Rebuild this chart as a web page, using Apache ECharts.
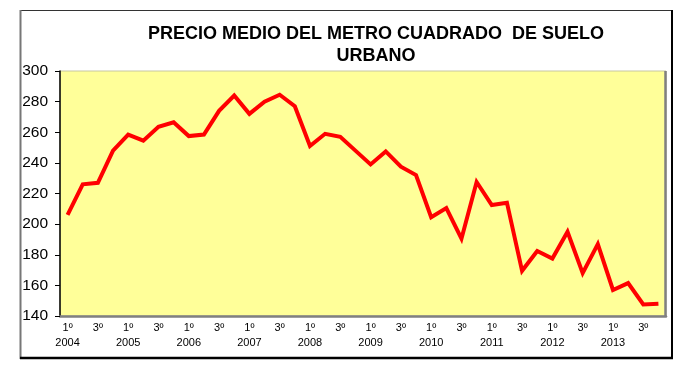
<!DOCTYPE html>
<html>
<head>
<meta charset="utf-8">
<script src="https://cdn.jsdelivr.net/npm/echarts@6/dist/echarts.min.js"></script>
<style>html,body{margin:0;padding:0;background:#fff}#c{width:692px;height:382px}</style>
</head>
<body>
<div id="c"></div>
<script>
const titleText = "PRECIO MEDIO DEL METRO CUADRADO  DE SUELO\nURBANO";
const years = ["2004","2005","2006","2007","2008","2009","2010","2011","2012","2013"];
const quarters = ["1º","2º","3º","4º"];
const values = [
  206, 226, 227, 248, 258.5, 254.5, 263.5, 266.5, 257.5, 258.5,
  274, 284, 272, 280, 284.5, 277, 251, 259, 257, 248,
  239, 247.5, 237.5, 232, 204.5, 210.5, 190.5, 227.5, 212.5, 214,
  169.5, 182.5, 177.5, 195, 168, 187, 157, 161.5, 147.5, 148
];
const yMin = 140, yMax = 300, yStep = 20;

const categories = [];
years.forEach(y => quarters.forEach(q => categories.push(y + "|" + q)));

const chart = echarts.init(document.getElementById('c'), null, {renderer: 'canvas'});
const font = "Liberation Sans, Arial, sans-serif";
chart.setOption({
  animation: false,
  backgroundColor: '#ffffff',
  title: {
    text: titleText,
    left: 371, top: 18, textAlign: 'center',
    textStyle: {fontFamily: font, fontSize: 18, fontWeight: 'bold', color: '#000', lineHeight: 22}
  },
  grid: {
    left: 60, top: 71, right: 26, bottom: 66,
    show: true, backgroundColor: '#FFFF99', borderColor: '#c8c8a0', borderWidth: 1
  },
  xAxis: {
    type: 'category', data: categories, boundaryGap: true,
    axisLine: {show: true, lineStyle: {color: '#808080', width: 2.5}},
    axisTick: {show: false},
    splitLine: {show: false},
    axisLabel: {
      interval: 1, margin: 4,
      fontFamily: font, fontSize: 11, color: '#000', lineHeight: 15,
      formatter: function (v) {
        const p = v.split("|");
        return p[1] === "1º" ? p[1] + "\n" + p[0] : p[1];
      },
      verticalAlign: 'top'
    }
  },
  yAxis: {
    type: 'value', min: yMin, max: yMax, interval: yStep,
    axisLine: {show: true, lineStyle: {color: '#000', width: 1.5}},
    axisTick: {show: true, inside: false, length: 5, lineStyle: {color: '#000', width: 1}},
    splitLine: {show: false},
    axisLabel: {margin: 12, fontFamily: font, fontSize: 15.5, color: '#000'}
  },
  series: [{
    type: 'line', data: values, symbol: 'none',
    lineStyle: {color: '#FF0000', width: 4, join: 'miter'},
    itemStyle: {color: '#FF0000'}
  }],
  graphic: [
    {type: 'line', shape: {x1: 20, y1: 10.5, x2: 672, y2: 10.5}, style: {stroke: '#333', lineWidth: 1}},
    {type: 'line', shape: {x1: 20.5, y1: 10, x2: 20.5, y2: 359}, style: {stroke: '#777', lineWidth: 2}},
    {type: 'line', shape: {x1: 672, y1: 10, x2: 672, y2: 359}, style: {stroke: '#000', lineWidth: 2}},
    {type: 'line', shape: {x1: 20, y1: 358, x2: 673, y2: 358}, style: {stroke: '#000', lineWidth: 2.5}},
    {type: 'line', shape: {x1: 665.5, y1: 71, x2: 665.5, y2: 317}, style: {stroke: '#808080', lineWidth: 2.5}}
  ]
});
</script>
</body>
</html>
